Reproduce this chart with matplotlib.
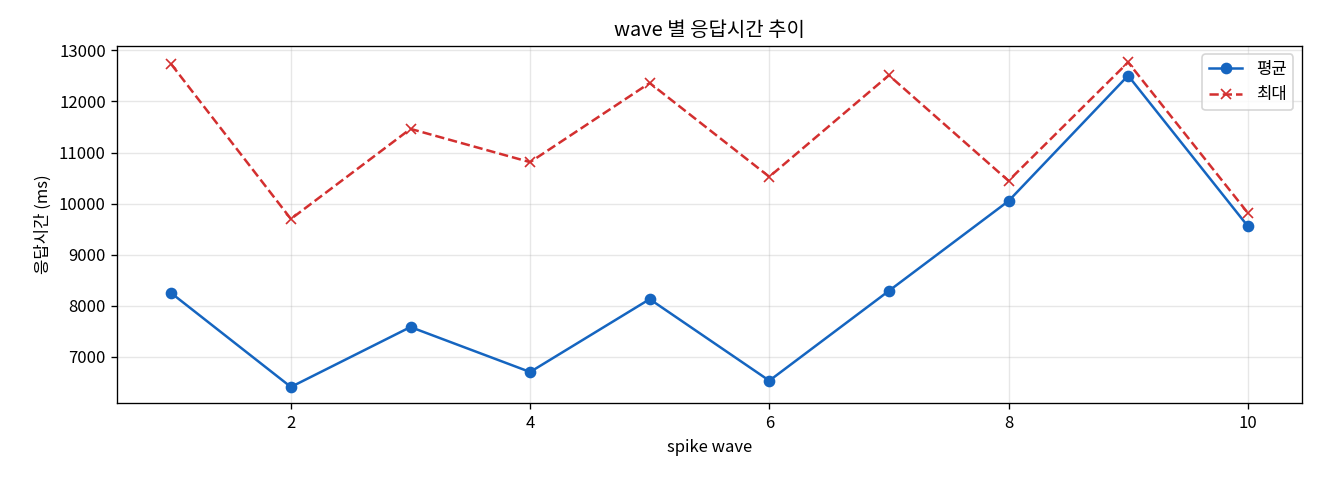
import matplotlib
matplotlib.use("Agg")
import matplotlib.pyplot as plt

plt.rcParams['font.family'] = ['Noto Sans CJK KR', 'DejaVu Sans']
plt.rcParams['axes.unicode_minus'] = False

# 데이터
waves = [1, 2, 3, 4, 5, 6, 7, 8, 9, 10]
avg_ms = [8248, 6412, 7585, 6705, 8131, 6535, 8293, 10051, 12506, 9562]
max_ms = [12727, 9700, 11463, 10812, 12361, 10526, 12512, 10447, 12766, 9822]

fig, ax = plt.subplots(figsize=(11, 4), dpi=120)
ax.plot(waves, avg_ms, marker='o', color='#1565C0', label='평균')
ax.plot(waves, max_ms, marker='x', linestyle='--', color='#D32F2F', label='최대')
ax.set_title('wave 별 응답시간 추이')
ax.set_xlabel('spike wave')
ax.set_ylabel('응답시간 (ms)')
ax.grid(True, alpha=0.3)
ax.legend()

# 레퍼런스 여백에 맞춤
plt.subplots_adjust(left=0.089, right=0.986, top=0.904, bottom=0.160)
plt.savefig('out.png')
